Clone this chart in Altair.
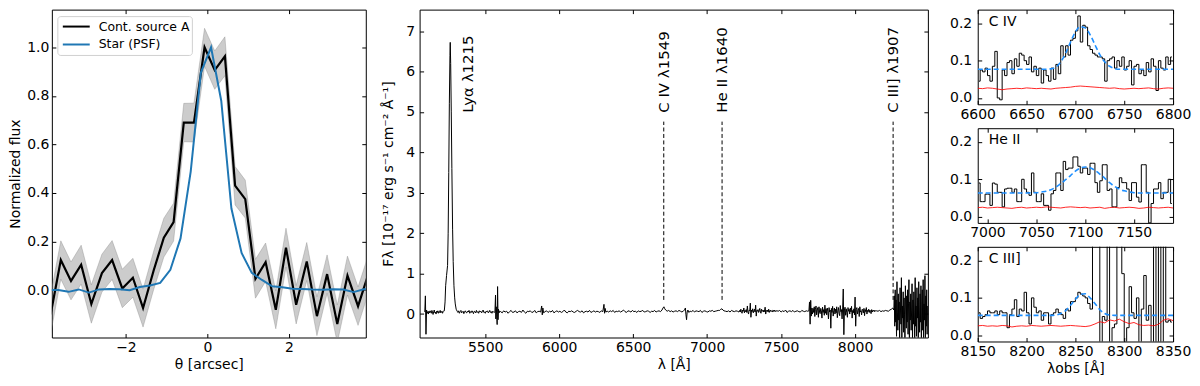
import altair as alt
import pandas as pd

FONT = "DejaVu Sans"

# ---------------- Left panel: spatial profile ----------------
theta_src = [-3.85, -3.60, -3.35, -3.10, -2.85, -2.59, -2.34, -2.09, -1.83, -1.58,
             -1.32, -1.07, -0.83, -0.58, -0.33, -0.07, 0.18, 0.43, 0.68, 0.93,
             1.18, 1.43, 1.68, 1.93, 2.18, 2.44, 2.69, 2.94, 3.19, 3.44, 3.70, 3.95]
flux_src = [-0.100, 0.124, 0.038, 0.105, -0.057, 0.070, 0.124, 0.007, 0.051, -0.074,
            0.081, 0.216, 0.280, 0.690, 0.690, 1.000, 0.906, 0.963, 0.430, 0.375,
            0.047, 0.115, -0.081, 0.175, -0.060, 0.118, -0.107, 0.066, -0.139, 0.060,
            -0.066, 0.065]
err_src = [0.080, 0.079, 0.078, 0.080, 0.079, 0.078, 0.080, 0.079, 0.080, 0.078,
           0.079, 0.080, 0.078, 0.079, 0.080, 0.078, 0.079, 0.080, 0.079, 0.078,
           0.080, 0.079, 0.078, 0.080, 0.079, 0.078, 0.080, 0.079, 0.078, 0.080,
           0.079, 0.078]
theta_psf = [-3.91, -3.66, -3.41, -3.16, -2.91, -2.66, -2.41, -2.16, -1.91, -1.66,
             -1.41, -1.16, -0.91, -0.66, -0.41, -0.16, 0.09, 0.34, 0.59, 0.84,
             1.09, 1.34, 1.59, 1.84, 2.09, 2.34, 2.59, 2.84, 3.09, 3.34, 3.59, 3.84, 4.09]
flux_psf = [0.000, 0.001, -0.007, 0.003, -0.010, 0.003, 0.005, 0.004, 0.000, 0.013,
            0.019, 0.030, 0.084, 0.213, 0.488, 0.896, 1.000, 0.780, 0.336, 0.153,
            0.071, 0.042, 0.016, 0.012, 0.006, 0.005, 0.003, 0.002, 0.004, 0.003,
            -0.008, 0.004, 0.006]
profile_series = ["Cont. source A", "Star (PSF)"]
profile_colors = ["black", "#1f77b4"]
theta_ticks = [-2, 0, 2]
profile_yticks = [0.0, 0.2, 0.4, 0.6, 0.8, 1.0]

# ---------------- Middle panel: 1D spectrum ----------------
spec_blue_edge = [0.05, 0.45, -0.50, 0.10, 0.02, 0.06, 0.00, 0.07, 0.03, 0.08, 0.04,
                  0.02, 0.09, 0.05, -0.01, 0.06, 0.10, 0.03, 0.05, 0.00, 0.07, 0.04,
                  0.08, 0.02, 0.06, 0.04, 0.09, 0.03, 0.05, 0.07, 0.02, 0.06, 0.08]
spec_5316 = [0.04, 0.08, 0.02, 0.06, 0.09, 0.03, 0.05, 0.07, 0.01, 0.06, 0.08, 0.04,
             0.03, 0.07, 0.05, 0.09, 0.02, 0.06, 0.04, 0.08, 0.05, 0.01, 0.07, 0.06,
             0.03, 0.09, 0.04, 0.06, 0.02, 0.08, 0.05, 0.07, 0.03, 0.06, 0.10, 0.04,
             0.05, 0.02, 0.07, 0.06, 0.08, 0.03, 0.05, 0.09, 0.04, 0.06, 0.02, 0.07,
             0.05, 0.04]
spec_5605 = [0.06, 0.03, 0.08, 0.05, 0.07, 0.02, 0.06, 0.09, 0.04, 0.05, 0.08, 0.03,
             0.06, 0.07, 0.04, 0.10, 0.05, 0.02, 0.07, 0.06, 0.08, 0.04, 0.05, 0.09,
             0.03, 0.06, 0.07, 0.05]
spec_5905 = [0.06, 0.08, 0.04, 0.07, 0.05, 0.09, 0.03, 0.06, 0.08, 0.05, 0.07, 0.04,
             0.06, 0.10, 0.05, 0.03, 0.07, 0.06, 0.08, 0.05, 0.04, 0.07, 0.09, 0.06,
             0.05, 0.08, 0.03, 0.06, 0.07, 0.05, 0.09, 0.04, 0.06, 0.08, 0.05, 0.07,
             0.06, 0.04, 0.08, 0.06]
spec_6325 = [0.07, 0.05, 0.08, 0.06, 0.09, 0.04, 0.07, 0.06, 0.08, 0.05, 0.07, 0.10,
             0.06, 0.04, 0.08, 0.07, 0.05, 0.09, 0.06, 0.07, 0.04, 0.08, 0.06, 0.07,
             0.09, 0.05, 0.06, 0.08, 0.07, 0.04, 0.07, 0.06, 0.09, 0.05, 0.07, 0.08, 0.06]
spec_6730 = [0.07, 0.09, 0.06, 0.08, 0.05, 0.07, 0.08, 0.06, 0.09, 0.07, 0.05, 0.08]
spec_6885 = [0.07, 0.06, 0.09, 0.05, 0.08, 0.07, 0.06, 0.09, 0.04, 0.07, 0.08, 0.06,
             0.05, 0.08, 0.07, 0.09, 0.06, 0.07, 0.08, 0.09]
spec_7125 = [0.07, 0.06, 0.08, 0.05, 0.09, 0.07, 0.06, 0.08, 0.07, 0.05]
spec_7220 = [0.09, 0.05, 0.12, 0.06, 0.02, 0.10, 0.07, 0.15, 0.03, 0.09, 0.06, 0.11,
             0.04, 0.20, 0.05, 0.00, 0.10, 0.08, 0.27, -0.08, 0.10, 0.06, 0.13, 0.03,
             0.08, 0.12, 0.05, 0.22, -0.05, 0.09, 0.07, 0.11, 0.04, 0.08, 0.14, 0.05,
             0.02, 0.12, 0.07, 0.09, 0.05, 0.10, 0.06, 0.17, 0.00, 0.09, 0.07, 0.10,
             0.05, 0.12, 0.04, 0.08, 0.10, 0.06, 0.08, 0.09, 0.05, 0.09, 0.07, 0.10,
             0.06, 0.08, 0.07, 0.09, 0.07]
spec_7480 = [0.07, 0.09, 0.05, 0.08, 0.06, 0.10, 0.04, 0.07, 0.08, 0.06, 0.09, 0.05,
             0.07, 0.08, 0.06, 0.05, 0.09, 0.07, 0.06, 0.08, 0.07]
spec_7688 = [0.08, 0.30, -0.25, 0.34, -0.05, 0.15, 0.00, 0.14, 0.04, 0.18,
             -0.06, 0.12, 0.20, -0.02, 0.10, 0.16, -0.08, 0.18, 0.05, 0.01,
             0.14, 0.08, -0.10, 0.17, 0.04, 0.11, -0.03, 0.22, 0.02, 0.13,
             -0.02, 0.15, 0.07, -0.12, 0.16, 0.05, 0.10, -0.35, 0.14, 0.04,
             0.19, -0.05, 0.09, 0.15, 0.00, 0.12, 0.03, 0.18, -0.09, 0.08,
             0.16, 0.02, -0.04, 0.21, 0.06, 0.11, -0.12, 0.15, 0.62, -0.51,
             0.10, 0.17, -0.03, 0.13, 0.04, -0.08, 0.16, 0.07, 0.12, 0.00,
             0.15, 0.05, 0.19, -0.10, 0.09, 0.03, 0.13, -0.02, 0.42, -0.30,
             0.11, 0.16, 0.00, 0.09, 0.14, -0.06, 0.18, 0.05, 0.08, -0.02,
             0.12, 0.10, 0.03, 0.14, -0.04, 0.11, 0.06, 0.16, 0.00, 0.09,
             0.06, 0.12, 0.04, 0.10, 0.07, 0.01, 0.11, 0.05, 0.09, 0.07,
             0.10, 0.06, 0.08]
spec_8145 = [0.08, 0.07, 0.09, 0.06, 0.08, 0.07, 0.09, 0.08, 0.07, 0.10, 0.12, 0.15]
spec_8262 = [0.10, 0.45, -0.30, 0.60, -0.20, 0.35, -0.55, 0.80, 0.05, -0.40, 0.50, -0.15,
             0.30, -0.70, 0.65, 0.10, -0.25, 0.90, -0.60, 0.20, -0.10, 0.55, -0.45, 0.40,
             0.00, -0.80, 0.70, 0.15, -0.35, 0.45, -0.20, 0.60, -0.50, 0.25, 0.85, -0.90,
             0.30, -0.15, 0.50, -0.40, 0.10, 0.75, -0.65, 0.35, -0.25, 0.55, 0.05, -0.70,
             0.90, -0.30, 0.20, -0.55, 0.65, -0.10, 0.40, -0.85, 0.80, 0.15, -0.45, 0.50,
             -0.20, 0.70, -0.95, 0.30, 0.60, -0.40, 0.85, -0.60, 0.25, -0.15, 0.95, -0.75,
             0.45, -0.30, 0.60, -0.50, 0.20]
spec_stretches = [(5092, 4, spec_blue_edge), (5316, 5, spec_5316), (5605, 10, spec_5605),
                  (5905, 10, spec_5905), (6325, 10, spec_6325), (6730, 10, spec_6730),
                  (6885, 10, spec_6885), (7125, 10, spec_7125), (7220, 4, spec_7220),
                  (7480, 10, spec_7480), (7688, 4, spec_7688), (8145, 10, spec_8145),
                  (8262, 3, spec_8262)]
feature_wl = [5224, 5229, 5233, 5239, 5246, 5250, 5254, 5258, 5262, 5264, 5267, 5271,
              5275, 5280, 5284, 5289, 5294, 5298, 5304, 5311,
              5566, 5570, 5572, 5575, 5578, 5581, 5584, 5587, 5590, 5594, 5598,
              5882, 5886, 5890, 5895, 6303, 6307, 6311, 6316,
              6695, 6702, 6708, 6714, 6720,
              6848, 6853, 6857, 6861, 6865, 6870, 6876,
              7085, 7093, 7100, 7107, 7114]
feature_flux = [0.08, 0.30, 0.70, 0.95, 1.20, 2.00, 3.50, 5.20, 6.40, 6.72, 6.20, 5.00,
                3.60, 2.10, 1.30, 0.70, 0.40, 0.25, 0.12, 0.07,
                0.05, 0.47, -0.12, 0.18, 0.00, -0.26, 0.68, -0.14, 0.12, 0.03, 0.07,
                0.20, -0.02, 0.15, 0.03, 0.24, 0.02, 0.14, 0.05,
                0.10, 0.15, 0.18, 0.13, 0.10,
                0.10, 0.15, -0.02, -0.14, 0.05, 0.10, 0.04,
                0.09, 0.12, 0.13, 0.10, 0.08]
line_names = ["Lyα λ1215", "C IV λ1549", "He II λ1640", "C III] λ1907"]
line_wl = [5264, 6707, 7101, 8257]
line_label_wl = [5384, 6707, 7101, 8257]
spec_xticks = [5500, 6000, 6500, 7000, 7500, 8000]
spec_yticks = [0, 1, 2, 3, 4, 5, 6, 7]

# ---------------- Right panels: line zooms ----------------
civ_flux = [0.045, 0.075, 0.070, 0.080, 0.060, 0.045, 0.085, 0.125, 0.000, -0.005,
            0.075, 0.060, 0.095, 0.100, 0.065, 0.105, 0.085, 0.120, 0.115, 0.100,
            0.090, 0.110, 0.070, 0.085, 0.060, 0.080, 0.040, 0.075, 0.060, 0.045,
            0.080, 0.050, 0.090, 0.065, 0.140, 0.110, 0.140, 0.115, 0.155, 0.160,
            0.180, 0.220, 0.150, 0.195, 0.190, 0.140, 0.130, 0.120, 0.115, 0.110,
            0.110, 0.105, 0.045, 0.100, 0.105, 0.110, 0.080, 0.100, 0.085, 0.110,
            0.075, 0.085, 0.100, 0.035, 0.085, 0.090, 0.065, 0.075, 0.060, 0.095,
            0.070, 0.105, 0.085, 0.020, 0.100, 0.080, 0.075, 0.110, 0.090, 0.110]
civ_fit_wl = [6600, 6620, 6640, 6660, 6670, 6675, 6680, 6685, 6690, 6695, 6700, 6705,
              6710, 6715, 6720, 6725, 6730, 6735, 6740, 6745, 6760, 6780, 6800]
civ_fit = [0.077, 0.077, 0.077, 0.077, 0.077, 0.078, 0.083, 0.097, 0.120, 0.150, 0.177,
           0.191, 0.188, 0.170, 0.143, 0.116, 0.097, 0.085, 0.079, 0.077, 0.077, 0.077, 0.077]
civ_noise = [0.026, 0.025, 0.027, 0.026, 0.024, 0.022, 0.024, 0.025, 0.026, 0.025,
             0.027, 0.026, 0.025, 0.026, 0.025, 0.024, 0.026, 0.027, 0.028, 0.029,
             0.031, 0.032, 0.031, 0.030, 0.029, 0.028, 0.027, 0.026, 0.027, 0.025,
             0.024, 0.025, 0.026, 0.025, 0.026, 0.027, 0.025, 0.024, 0.026, 0.027, 0.026]

heii_flux = [0.090, 0.040, 0.040, 0.060, 0.060, 0.030, 0.090, 0.087, 0.065, 0.065,
             0.026, 0.074, 0.076, 0.076, 0.065, 0.074, 0.040, 0.040, 0.100, 0.074,
             0.065, 0.057, 0.117, 0.065, 0.040, 0.040, 0.061, 0.030, 0.030, 0.017,
             0.061, 0.070, 0.117, 0.117, 0.070, 0.148, 0.126, 0.130, 0.130, 0.160,
             0.160, 0.135, 0.117, 0.130, 0.130, 0.113, 0.143, 0.143, 0.091, 0.065,
             0.096, 0.139, 0.139, 0.070, 0.074, 0.026, 0.026, 0.078, 0.104, 0.091,
             0.091, 0.074, 0.043, 0.091, 0.091, 0.052, 0.039, 0.139, 0.139, 0.065,
             -0.017, 0.035, 0.074, 0.074, 0.091, 0.048, 0.065, 0.065, 0.100, 0.035]
heii_fit_wl = [6990, 7010, 7030, 7040, 7045, 7050, 7055, 7060, 7065, 7070, 7075, 7080,
               7085, 7090, 7095, 7100, 7105, 7110, 7115, 7120, 7125, 7130, 7135, 7140,
               7145, 7150, 7155, 7170, 7190]
heii_fit = [0.063, 0.063, 0.063, 0.063, 0.064, 0.064, 0.066, 0.068, 0.072, 0.079, 0.088,
            0.099, 0.110, 0.122, 0.130, 0.133, 0.131, 0.124, 0.114, 0.103, 0.091, 0.081,
            0.074, 0.069, 0.066, 0.064, 0.063, 0.063, 0.063]
heii_noise = [0.024, 0.025, 0.023, 0.024, 0.025, 0.024, 0.023, 0.022, 0.024, 0.025,
              0.023, 0.024, 0.025, 0.024, 0.026, 0.025, 0.024, 0.023, 0.025, 0.026,
              0.025, 0.024, 0.025, 0.023, 0.024, 0.025, 0.022, 0.024, 0.025, 0.023,
              0.024, 0.025, 0.024, 0.022, 0.023, 0.025, 0.024, 0.023, 0.024, 0.025, 0.023]

ciii_flux = [0.060, 0.045, 0.050, 0.055, 0.065, 0.060, 0.060, 0.065, 0.055, 0.065,
             0.060, 0.060, 0.020, 0.055, 0.070, 0.095, 0.050, 0.070, 0.065, 0.115,
             0.060, 0.030, 0.100, 0.075, 0.060, 0.065, 0.040, 0.060, 0.060, 0.030,
             0.055, 0.060, 0.070, 0.060, 0.055, 0.045, 0.070, 0.065, 0.090, 0.090,
             0.100, 0.115, 0.110, 0.105, 0.100, 0.085, 0.070,
             0.300, 0.400, 0.350, -0.200, 0.050, 0.040, 0.500, -0.100, 0.020, 0.030,
             0.400, 0.350, 0.165, -0.050, 0.020, 0.130, 0.060, 0.045, 0.100, -0.030,
             0.070, 0.160, 0.040, 0.080, -0.050, 0.300, -0.200, 0.500, -0.100, 0.400,
             0.035, 0.040, 0.035]
ciii_fit_wl = [8150, 8180, 8210, 8225, 8230, 8235, 8240, 8245, 8250, 8255, 8260, 8265,
               8270, 8275, 8280, 8285, 8290, 8295, 8320, 8350]
ciii_fit = [0.053, 0.053, 0.053, 0.053, 0.054, 0.058, 0.066, 0.080, 0.096, 0.109, 0.111,
            0.100, 0.085, 0.068, 0.058, 0.054, 0.053, 0.053, 0.053, 0.053]
ciii_noise = [0.025, 0.026, 0.024, 0.025, 0.024, 0.026, 0.025, 0.022, 0.024, 0.025,
              0.024, 0.026, 0.025, 0.024, 0.025, 0.026, 0.025, 0.024, 0.025, 0.026,
              0.025, 0.024, 0.023, 0.025, 0.030, 0.036, 0.033, 0.041, 0.038, 0.043,
              0.036, 0.031, 0.034, 0.028, 0.026, 0.027, 0.025, 0.029, 0.040, 0.044, 0.039]

zoom_names = ["C IV", "He II", "C III]"]
zoom_start = [6600, 6990, 8150]
zoom_end = [6800, 7190, 8350]
zoom_bin = 2.5
zoom_noise_step = 5
zoom_xticks = [[6600, 6650, 6700, 6750, 6800], [7000, 7050, 7100, 7150],
               [8150, 8200, 8250, 8300, 8350]]
zoom_yticks = [0.0, 0.1, 0.2]

# ---------------- styling / layout constants ----------------
TICK = 4
LBL = 14
RULE_LO, RULE_HI, LABEL_Y = 0.35, 4.76, 4.98
MAIN_H = 329
W1, W2 = 315, 510
ZOOM_W, ZOOM_H = 196, 95


def axis_main(orient, values, title, fmt, pad=3, tpad=3):
    return alt.Axis(orient=orient, values=values, title=title, format=fmt,
                    offset=-TICK, tickSize=TICK, tickColor="black", tickWidth=1,
                    domain=False, grid=False, labelPadding=pad, labelFlush=False,
                    labelOverlap=False, labelFontSize=LBL, labelColor="black",
                    titleFontSize=14, titleFontWeight="normal", titleColor="black",
                    titlePadding=tpad, minExtent=0)


def axis_ticks(orient, values):
    return alt.Axis(orient=orient, values=values, title=None, labels=False,
                    offset=-TICK, tickSize=TICK, tickColor="black", tickWidth=1,
                    domain=False, grid=False, minExtent=0)


def one(**kw):
    return pd.DataFrame({k: [v] for k, v in kw.items()})


# ---------- left panel ----------
src_df = pd.DataFrame({"theta": theta_src, "flux": flux_src,
                       "lo": [f - e for f, e in zip(flux_src, err_src)],
                       "hi": [f + e for f, e in zip(flux_src, err_src)]})
psf_df = pd.DataFrame({"theta": theta_psf, "flux": flux_psf})
xs1 = alt.Scale(domain=[-3.82, 3.89], nice=False, zero=False)
ys1 = alt.Scale(domain=[-0.195, 1.155], nice=False, zero=False)
band = alt.Chart(src_df).mark_area(color="gray", opacity=0.4, clip=True).encode(
    x=alt.X("theta:Q", scale=xs1,
            axis=axis_main("bottom", theta_ticks, "θ [arcsec]", "d")),
    y=alt.Y("lo:Q", scale=ys1,
            axis=axis_main("left", profile_yticks, "Normalized flux", ".1f", 3, 4)),
    y2="hi:Q")
band_edges = [alt.Chart(src_df).mark_line(color="gray", opacity=0.35, strokeWidth=1,
                                          clip=True).encode(
    x=alt.X("theta:Q", scale=xs1, axis=None), y=alt.Y(f"{c}:Q", scale=ys1, axis=None))
    for c in ("lo", "hi")]
src_line = alt.Chart(src_df).mark_line(strokeWidth=2.2, color=profile_colors[0],
                                       clip=True).encode(
    x=alt.X("theta:Q", scale=xs1, axis=axis_ticks("top", theta_ticks)),
    y=alt.Y("flux:Q", scale=ys1, axis=axis_ticks("right", profile_yticks)))
psf_line = alt.Chart(psf_df).mark_line(strokeWidth=2, color=profile_colors[1],
                                       clip=True).encode(
    x=alt.X("theta:Q", scale=xs1, axis=None),
    y=alt.Y("flux:Q", scale=ys1, axis=None))
# legend (drawn as marks, matplotlib style)
leg = [alt.Chart(one(a=0)).mark_rect(fill="white", stroke="#cccccc", strokeWidth=1,
                                     cornerRadius=3, opacity=0.9).encode(
    x=alt.value(6), x2=alt.value(141), y=alt.value(7), y2=alt.value(46))]
for i, (nm, col) in enumerate(zip(profile_series, profile_colors)):
    leg.append(alt.Chart(one(a=0)).mark_rule(color=col, strokeWidth=2).encode(
        x=alt.value(11), x2=alt.value(38), y=alt.value(17 + 18 * i)))
    leg.append(alt.Chart(one(name=nm)).mark_text(
        align="left", baseline="middle", fontSize=12.5, color="black").encode(
        x=alt.value(47), y=alt.value(17 + 18 * i), text="name:N"))
panel1 = alt.layer(band, *band_edges, src_line, psf_line, *leg).resolve_axis(
    x="independent", y="independent").properties(width=W1, height=MAIN_H)

# ---------- middle panel ----------
spec_wl, spec_fl = [], []
for start, step, vals in spec_stretches:
    spec_wl += [start + step * i for i in range(len(vals))]
    spec_fl += vals
spec_wl += feature_wl
spec_fl += feature_flux
spec_df = pd.DataFrame({"wl": spec_wl, "flux": spec_fl}).sort_values("wl")
xs2 = alt.Scale(domain=[5057, 8492], nice=False, zero=False)
ys2 = alt.Scale(domain=[-0.58, 7.53], nice=False, zero=False)
spec = alt.Chart(spec_df).mark_line(color="black", strokeWidth=1, clip=True).encode(
    x=alt.X("wl:Q", scale=xs2, axis=axis_main("bottom", spec_xticks, "λ [Å]", "d")),
    y=alt.Y("flux:Q", scale=ys2,
            axis=axis_main("left", spec_yticks,
                           "Fλ [10⁻¹⁷ erg s⁻¹ cm⁻² Å⁻¹]", "d", 5, 10)))
rules_df = pd.DataFrame({"wl": line_wl[1:], "lo": RULE_LO, "hi": RULE_HI})
rules = alt.Chart(rules_df).mark_rule(color="black", strokeWidth=1,
                                      strokeDash=[4, 2.5]).encode(
    x=alt.X("wl:Q", scale=xs2, axis=axis_ticks("top", spec_xticks)),
    y=alt.Y("lo:Q", scale=ys2, axis=axis_ticks("right", spec_yticks)),
    y2="hi:Q")
labels_df = pd.DataFrame({"wl": line_label_wl, "y": LABEL_Y, "name": line_names})
labels = alt.Chart(labels_df).mark_text(angle=270, align="left", baseline="middle",
                                        fontSize=15, color="black").encode(
    x=alt.X("wl:Q", scale=xs2, axis=None),
    y=alt.Y("y:Q", scale=ys2, axis=None),
    text="name:N")
panel2 = alt.layer(spec, rules, labels).resolve_axis(
    x="independent", y="independent").properties(width=W2, height=MAIN_H)


# ---------- right panels ----------
def zoom_panel(k, flux, fit_wl, fit, noise, bottom):
    start = zoom_start[k]
    xs = alt.Scale(domain=[zoom_start[k], zoom_end[k]], nice=False, zero=False)
    ys = alt.Scale(domain=[-0.017, 0.237], nice=False, zero=False)
    step_df = pd.DataFrame({"wl": [start + zoom_bin * (i + 0.5) for i in range(len(flux))],
                            "f": flux})
    fit_df = pd.DataFrame({"wl": fit_wl, "f": fit})
    noise_df = pd.DataFrame({"wl": [start + zoom_noise_step * i for i in range(len(noise))],
                             "f": noise})
    title = "λobs [Å]" if bottom else None
    steps = alt.Chart(step_df).mark_line(interpolate="step", color="black",
                                         strokeWidth=1, clip=True).encode(
        x=alt.X("wl:Q", scale=xs, axis=axis_main("bottom", zoom_xticks[k], title, "d")),
        y=alt.Y("f:Q", scale=ys, axis=axis_main("left", zoom_yticks, None, ".1f", 6)))
    fitl = alt.Chart(fit_df).mark_line(interpolate="monotone", color="#1e8fff",
                                       strokeWidth=1.6, strokeDash=[5, 3],
                                       clip=True).encode(
        x=alt.X("wl:Q", scale=xs, axis=axis_ticks("top", zoom_xticks[k])),
        y=alt.Y("f:Q", scale=ys, axis=axis_ticks("right", zoom_yticks)))
    noisel = alt.Chart(noise_df).mark_line(color="red", strokeWidth=1, opacity=0.85,
                                           clip=True).encode(
        x=alt.X("wl:Q", scale=xs, axis=None),
        y=alt.Y("f:Q", scale=ys, axis=None))
    name = alt.Chart(one(name=zoom_names[k])).mark_text(
        align="left", baseline="alphabetic", fontSize=14, color="black").encode(
        x=alt.value(11), y=alt.value(16), text="name:N")
    return alt.layer(steps, noisel, fitl, name).resolve_axis(
        x="independent", y="independent").properties(width=ZOOM_W, height=ZOOM_H)


right = alt.vconcat(
    zoom_panel(0, civ_flux, civ_fit_wl, civ_fit, civ_noise, False),
    zoom_panel(1, heii_flux, heii_fit_wl, heii_fit, heii_noise, False),
    zoom_panel(2, ciii_flux, ciii_fit_wl, ciii_fit, ciii_noise, True),
    spacing=5)

left = alt.hconcat(panel1, panel2, spacing=14)
chart = alt.hconcat(left, right, spacing=20).properties(
    padding=0).configure(font=FONT).configure_view(stroke="black", strokeWidth=1)

chart.save("out.html", embed_options={"renderer": "svg", "actions": False})
